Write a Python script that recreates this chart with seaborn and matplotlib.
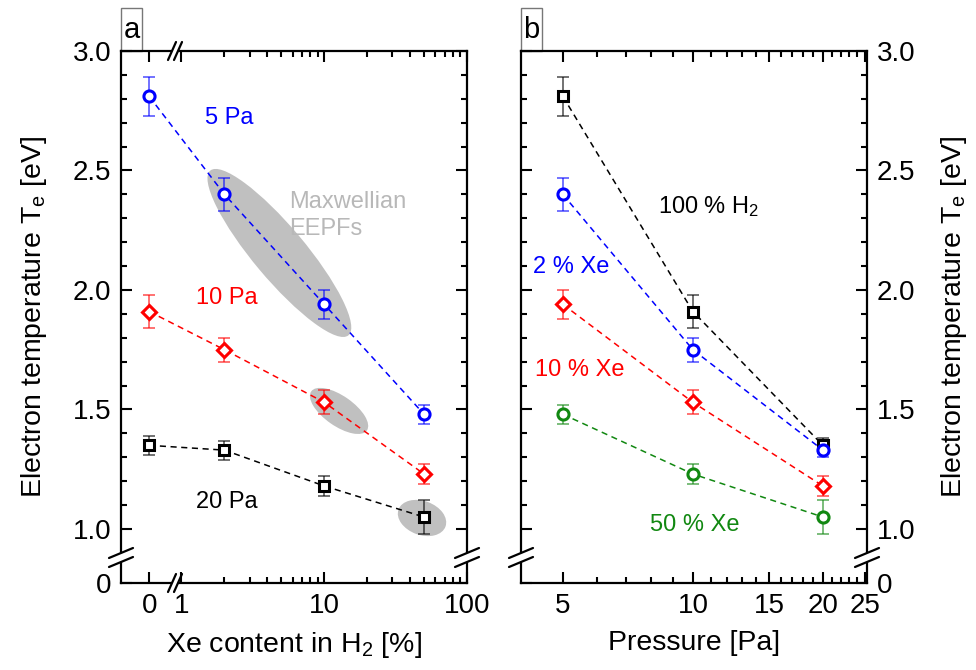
import matplotlib
matplotlib.use("Agg")
import matplotlib.pyplot as plt
import seaborn as sns
import numpy as np
from matplotlib.patches import Ellipse, Rectangle, Polygon
from matplotlib.lines import Line2D
from matplotlib.transforms import ScaledTranslation

# ---- data: panel a (Te vs Xe content) ----
xe_content = [0, 2, 10, 50]
te_5pa = [2.81, 2.40, 1.94, 1.48]
err_5pa = [0.08, 0.07, 0.06, 0.04]
te_10pa = [1.91, 1.75, 1.53, 1.23]
err_10pa = [0.07, 0.05, 0.05, 0.04]
te_20pa = [1.35, 1.33, 1.18, 1.05]
err_20pa = [0.04, 0.04, 0.04, 0.07]

# ---- data: panel b (Te vs pressure) ----
pressure = [5, 10, 20]
te_h2 = [2.81, 1.91, 1.35]
err_h2 = [0.08, 0.07, 0.03]
te_2xe = [2.40, 1.75, 1.33]
err_2xe = [0.07, 0.05, 0.03]
te_10xe = [1.94, 1.53, 1.18]
err_10xe = [0.06, 0.05, 0.04]
te_50xe = [1.48, 1.23, 1.05]
err_50xe = [0.04, 0.04, 0.07]

BLUE, RED, BLACK, GREEN = "#0000ff", "#ff0000", "#000000", "#118811"

# broken axes: where "0" sits on the log x axis / linear y axis
X_ZERO = 0.594
Y_ZERO = 0.774

sns.set_style("ticks")
plt.rcParams["font.family"] = ["Liberation Sans", "DejaVu Sans"]
plt.rcParams["mathtext.fontset"] = "custom"
plt.rcParams["mathtext.rm"] = "Liberation Sans"
plt.rcParams["mathtext.default"] = "regular"
for k in ("text.color", "axes.labelcolor", "xtick.color", "ytick.color", "axes.edgecolor"):
    plt.rcParams[k] = "black"

fig = plt.figure(figsize=(9.76, 6.70), dpi=100)
axa = fig.add_axes([121 / 976, 87 / 670, 346 / 976, 532 / 670])
axb = fig.add_axes([521 / 976, 87 / 670, 346 / 976, 532 / 670])


def series(ax, x, y, err, color, marker, ms):
    ax.errorbar(x, y, yerr=err, fmt="none", ecolor=color, alpha=0.7,
                elinewidth=1.1, capsize=4, capthick=1.1, zorder=2)
    sns.lineplot(x=x, y=y, ax=ax, color=color, linestyle=(0, (4, 3)),
                 linewidth=1.1, marker=marker, markersize=ms,
                 markerfacecolor="white", markeredgecolor=color,
                 markeredgewidth=2.2, zorder=3)


def slash(ax, xa, ya, dx, dy, gap, horiz):
    # two parallel break marks crossing a spine, with a white gap between
    tr = fig.dpi_scale_trans + ScaledTranslation(xa, ya, ax.transAxes)
    s = 1 / 100.0
    if horiz:  # marks on a vertical spine (y break), offset vertically
        k = dy / dx
        poly = [(-4 * s, (-gap - 4 * k) * s), (4 * s, (-gap + 4 * k) * s),
                (4 * s, (gap + 4 * k) * s), (-4 * s, (gap - 4 * k) * s)]
        lines = [([-dx * s, dx * s], [(o - dy) * s, (o + dy) * s]) for o in (-gap, gap)]
    else:  # marks on a horizontal spine (x break), offset horizontally
        k = dx / dy
        poly = [((-gap - 4 * k) * s, -4 * s), ((gap - 4 * k) * s, -4 * s),
                ((gap + 4 * k) * s, 4 * s), ((-gap + 4 * k) * s, 4 * s)]
        lines = [([(o - dx) * s, (o + dx) * s], [-dy * s, dy * s]) for o in (-gap, gap)]
    ax.add_patch(Polygon(poly, closed=True, transform=tr, fc="white", ec="none",
                         clip_on=False, zorder=10))
    for lx, ly in lines:
        ax.add_line(Line2D(lx, ly, transform=tr, color="black", lw=1.6,
                           clip_on=False, zorder=11))


# ---- panel a ----
xa_pos = [X_ZERO if v == 0 else v for v in xe_content]
for (w, h, ang, cx, cy) in [(2.15, 0.52, -50, 4.85, 2.155),
                            (0.68, 0.30, -35, 12.7, 1.494),
                            (0.50, 0.34, -20, 48.4, 1.046)]:
    tr = fig.dpi_scale_trans + ScaledTranslation(cx, cy, axa.transData)
    axa.add_patch(Ellipse((0, 0), w, h, angle=ang, transform=tr,
                          fc="#c0c0c0", ec="none", zorder=1))

series(axa, xa_pos, te_5pa, err_5pa, BLUE, "o", 8)
series(axa, xa_pos, te_10pa, err_10pa, RED, "D", 7.5)
series(axa, xa_pos, te_20pa, err_20pa, BLACK, "s", 6.5)

axa.set_xscale("log")
axa.set_xlim(0.377, 100)
axa.set_xticks([X_ZERO, 1, 10, 100])
axa.set_xticklabels(["0", "1", "10", "100"])
axa.set_xticks([m * d for d in (1, 10) for m in range(2, 10)], minor=True)
axa.set_xticklabels([], minor=True)

ANN = 17
axa.text(1.45, 2.72, "5 Pa", color=BLUE, fontsize=ANN, ha="left", va="center")
axa.text(1.27, 1.967, "10 Pa", color=RED, fontsize=ANN, ha="left", va="center")
axa.text(1.27, 1.113, "20 Pa", color=BLACK, fontsize=ANN, ha="left", va="center")
axa.text(5.67, 2.312, "Maxwellian\nEEPFs", color="#b8b8b8", fontsize=ANN,
         ha="left", va="center", linespacing=1.25)
axa.set_xlabel("Xe content in H$_2$ [%]", fontsize=20.5, labelpad=8)
axa.set_ylabel("Electron temperature T$_e$ [eV]", fontsize=20.5, labelpad=17)

# ---- panel b ----
series(axb, pressure, te_h2, err_h2, BLACK, "s", 6.5)
series(axb, pressure, te_2xe, err_2xe, BLUE, "o", 8)
series(axb, pressure, te_10xe, err_10xe, RED, "D", 7.5)
series(axb, pressure, te_50xe, err_50xe, GREEN, "o", 8)

axb.set_xscale("log")
axb.set_xlim(4.0, 25.3)
axb.set_xticks([5, 10, 15, 20, 25])
axb.set_xticklabels(["5", "10", "15", "20", "25"])
axb.set_xticks([v for v in range(6, 25) if v % 5], minor=True)
axb.set_xticklabels([], minor=True)

axb.text(8.3, 2.35, "100 % H$_2$", color=BLACK, fontsize=ANN, ha="left", va="center")
axb.text(4.26, 2.096, "2 % Xe", color=BLUE, fontsize=ANN, ha="left", va="center")
axb.text(4.30, 1.665, "10 % Xe", color=RED, fontsize=ANN, ha="left", va="center")
axb.text(7.95, 1.017, "50 % Xe", color=GREEN, fontsize=ANN, ha="left", va="center")
axb.set_xlabel("Pressure [Pa]", fontsize=20.5, labelpad=8)
axb.yaxis.set_label_position("right")
axb.set_ylabel("Electron temperature T$_e$ [eV]", fontsize=20.5, labelpad=17)

# ---- common styling ----
ymaj = [Y_ZERO, 1.0, 1.5, 2.0, 2.5, 3.0]
ymin = [round(1.0 + 0.1 * i, 1) for i in range(21) if i % 5]
for ax, lab in [(axa, "a"), (axb, "b")]:
    ax.set_ylim(Y_ZERO, 3.0)
    ax.set_yticks(ymaj)
    ax.set_yticklabels(["0", "1.0", "1.5", "2.0", "2.5", "3.0"])
    ax.set_yticks(ymin, minor=True)
    for sp in ax.spines.values():
        sp.set_visible(True)
        sp.set_linewidth(1.6)
    ax.tick_params(which="both", direction="in", top=True, right=True,
                   width=1.5, labelsize=20, pad=7)
    ax.tick_params(which="major", length=8)
    ax.tick_params(which="minor", length=4.5)
    ax.add_patch(Rectangle((0, 1), 0.061, 0.081, transform=ax.transAxes,
                           fill=False, ec="#777777", lw=1, clip_on=False))
    ax.text(0.0305, 1.040, lab, transform=ax.transAxes, fontsize=21,
            ha="center", va="center")
    # y axis breaks on both spines
    yb = (583 - 557.5) / 532
    slash(ax, 0, yb, 12, 5, 4.5, True)
    slash(ax, 1, yb, 12, 5, 4.5, True)

axb.tick_params(axis="y", labelleft=False, labelright=True)
# x axis break in panel a
xb = (175 - 121) / 346
slash(axa, xb, 0, 4, 9, 3, False)
slash(axa, xb, 1, 4, 9, 3, False)

fig.savefig("out.png", dpi=100)
